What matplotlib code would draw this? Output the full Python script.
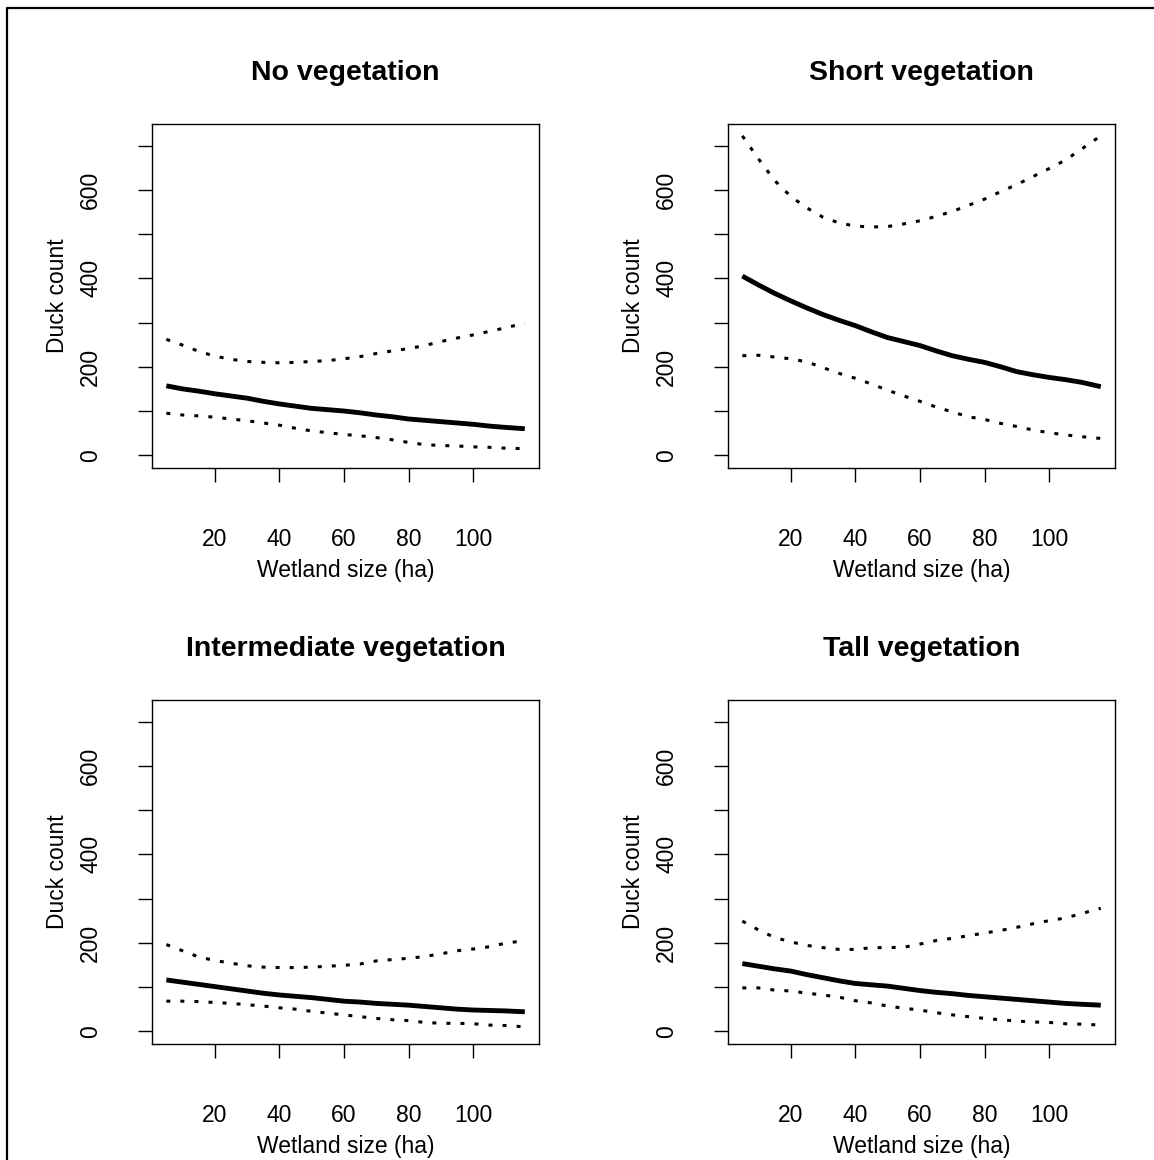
import matplotlib
matplotlib.use('Agg')
import matplotlib.pyplot as plt
from matplotlib.lines import Line2D

plt.rcParams['font.family'] = ['Liberation Sans', 'DejaVu Sans']

# wetland size (ha) at which the curves were read
wetland_size = [5, 10, 15, 20, 25, 30, 35, 40, 45, 50, 55, 60,
                65, 70, 75, 80, 85, 90, 95, 100, 105, 110, 116]

# No vegetation
no_fit = [157, 150, 145, 139, 134, 129, 122, 116, 111, 106, 103, 100,
          96, 91, 87, 82, 79, 76, 73, 70, 66, 63, 60]
no_upper = [262, 249, 235, 224, 217, 212, 210, 209, 210, 212, 214, 218,
            223, 230, 236, 241, 248, 257, 265, 272, 280, 288, 299]
no_lower = [95, 91, 89, 86, 82, 78, 73, 68, 61, 55, 51, 47,
            44, 40, 35, 29, 24, 22, 21, 19, 18, 16, 15]

# Short vegetation
short_fit = [405, 385, 366, 349, 333, 318, 305, 293, 279, 266, 257, 248,
             236, 225, 217, 210, 200, 189, 182, 176, 171, 165, 155]
short_upper = [722, 670, 621, 585, 559, 538, 525, 518, 516, 517, 523, 530,
               540, 551, 565, 579, 596, 612, 630, 648, 667, 692, 722]
short_lower = [225, 226, 222, 218, 211, 198, 185, 174, 161, 147, 134, 122,
               109, 98, 87, 81, 72, 65, 57, 51, 46, 42, 38]

# Intermediate vegetation
inter_fit = [116, 111, 106, 101, 96, 91, 86, 82, 79, 76, 72, 68,
             66, 63, 61, 59, 56, 53, 50, 48, 47, 46, 44]
inter_upper = [196, 182, 168, 160, 154, 148, 145, 144, 144, 145, 147, 149,
               152, 159, 162, 165, 169, 175, 182, 186, 191, 199, 205]
inter_lower = [68, 68, 67, 65, 63, 60, 57, 53, 50, 45, 41, 37,
               33, 29, 26, 24, 20, 18, 18, 17, 14, 13, 10]

# Tall vegetation
tall_fit = [153, 147, 141, 136, 128, 121, 114, 108, 105, 102, 97, 92,
            88, 85, 81, 78, 75, 72, 69, 66, 63, 61, 59]
tall_upper = [249, 229, 212, 202, 194, 189, 185, 185, 189, 189, 190, 197,
              205, 210, 216, 222, 228, 235, 243, 250, 256, 266, 278]
tall_lower = [98, 98, 93, 91, 86, 82, 77, 69, 64, 57, 52, 48,
              42, 37, 33, 29, 26, 23, 21, 20, 17, 16, 14]

titles = ['No vegetation', 'Short vegetation', 'Intermediate vegetation', 'Tall vegetation']
fits = [no_fit, short_fit, inter_fit, tall_fit]
uppers = [no_upper, short_upper, inter_upper, tall_upper]
lowers = [no_lower, short_lower, inter_lower, tall_lower]

y_ticks = [0, 100, 200, 300, 400, 500, 600, 700]
y_ticklabels = ['0', '', '200', '', '400', '', '600', '']
x_ticks = [20, 40, 60, 80, 100]

W, H = 1154, 1160
fig = plt.figure(figsize=(W / 100, H / 100), dpi=100)

# panel frames in pixels (left, top)
lefts = [152, 728, 152, 728]
tops = [124, 124, 700, 700]
pw, ph = 387, 344

for i in range(4):
    ax = fig.add_axes([lefts[i] / W, 1 - (tops[i] + ph) / H, pw / W, ph / H])
    ax.plot(wetland_size, fits[i], color='black', lw=3.5, solid_capstyle='butt')
    for band in (uppers[i], lowers[i]):
        ax.plot(wetland_size, band, color='black', lw=2.2,
                linestyle=(0, (1.3, 3.3)), dash_capstyle='butt')

    ax.set_xlim(0.56, 120.4)
    ax.set_ylim(-28.8, 748.8)
    ax.set_xticks(x_ticks)
    ax.set_xticklabels([str(t) for t in x_ticks])
    ax.set_yticks(y_ticks)
    ax.set_yticklabels(y_ticklabels, rotation=90, va='center')
    ax.tick_params(length=10, width=1.0, labelsize=16.5, colors='black')
    ax.tick_params(axis='x', pad=33)
    ax.tick_params(axis='y', pad=26)
    for s in ax.spines.values():
        s.set_linewidth(1.0)

    ax.set_title(titles[i], fontsize=20.5, fontweight='bold', pad=32)
    ax.set_xlabel('Wetland size (ha)', fontsize=16.5)
    ax.set_ylabel('Duck count', fontsize=16.5)
    ax.xaxis.set_label_coords(0.5, -102 / ph)
    ax.xaxis.label.set_va('center')
    ax.yaxis.set_label_coords(-95 / pw, 0.5)
    ax.yaxis.label.set_va('center')

# outer frame (only top and left edges visible)
bx, by = 7 / W, 1 - 7.5 / H
fig.add_artist(Line2D([bx, bx, 1], [0, by, by], transform=fig.transFigure,
                      color='black', lw=1.6))

plt.savefig('out.png', dpi=100)
plt.close()
